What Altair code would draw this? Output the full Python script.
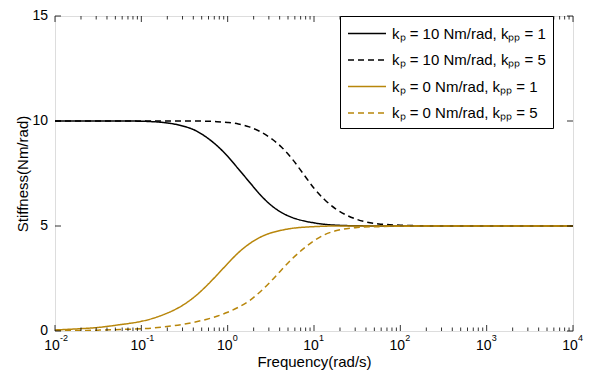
import altair as alt
import pandas as pd

FONT = "Liberation Sans"

# frequency grid (rad/s)
freq = [0.01, 0.0178, 0.0316, 0.0562, 0.1, 0.133, 0.178, 0.237, 0.316, 0.422,
        0.562, 0.75, 1.0, 1.33, 1.78, 2.37, 3.16, 4.22, 5.62, 7.5,
        10, 13.3, 17.8, 23.7, 31.6, 56.2, 100, 316, 1000, 10000]

black_solid = [10, 10, 10, 10, 9.99, 9.97, 9.93, 9.86, 9.74, 9.55,
               9.24, 8.83, 8.32, 7.72, 7.1, 6.5, 6.0, 5.64, 5.4, 5.25,
               5.15, 5.08, 5.04, 5.02, 5.01, 5.0, 5.0, 5.0, 5.0, 5.0]
black_dashed = [10, 10, 10, 10, 10, 10, 10, 10, 10, 10,
                9.99, 9.97, 9.93, 9.86, 9.72, 9.5, 9.18, 8.75, 8.18, 7.49,
                6.8, 6.25, 5.82, 5.52, 5.31, 5.1, 5.04, 5.0, 5.0, 5.0]
gold_solid = [0.05, 0.1, 0.17, 0.3, 0.46, 0.59, 0.77, 0.99, 1.28, 1.66,
              2.13, 2.66, 3.21, 3.73, 4.15, 4.46, 4.67, 4.8, 4.89, 4.94,
              4.97, 4.99, 5.0, 5.0, 5.0, 5.0, 5.0, 5.0, 5.0, 5.0]
gold_dashed = [0.01, 0.02, 0.04, 0.07, 0.11, 0.14, 0.19, 0.25, 0.33, 0.43,
               0.55, 0.7, 0.89, 1.13, 1.44, 1.86, 2.36, 2.92, 3.45, 3.91,
               4.3, 4.59, 4.77, 4.87, 4.93, 4.97, 4.99, 5.0, 5.0, 5.0]

series_labels = ["kₚ = 10 Nm/rad, kₚₚ = 1", "kₚ = 10 Nm/rad, kₚₚ = 5",
                 "kₚ = 0 Nm/rad, kₚₚ = 1", "kₚ = 0 Nm/rad, kₚₚ = 5"]
series_colors = ["#000000", "#000000", "#B8860B", "#B8860B"]
series_dash = [[1, 0], [6, 4], [1, 0], [6, 4]]

y_ticks = [0, 5, 10, 15]
x_decades = [0.01, 0.1, 1, 10, 100, 1000, 10000]
x_exponents = ["-2", "-1", "0", "1", "2", "3", "4"]

rows = []
for lab, vals in zip(series_labels, [black_solid, black_dashed, gold_solid, gold_dashed]):
    for f, v in zip(freq, vals):
        rows.append({"freq": f, "stiffness": v, "series": lab})
df = pd.DataFrame(rows)

minor = [d * m for d in x_decades[:-1] for m in range(2, 10)]
xmaj_df = pd.DataFrame({"freq": x_decades, "base": ["10"] * len(x_decades), "exp": x_exponents})
xmin_df = pd.DataFrame({"freq": minor})
y_df = pd.DataFrame({"stiffness": y_ticks, "lab": [str(v) for v in y_ticks]})

W, H = 518, 315
xscale = alt.Scale(type="log", domain=[0.01, 10000], nice=False)
yscale = alt.Scale(domain=[0, 15], nice=False)

xaxis = alt.Axis(title="Frequency(rad/s)", labels=False, ticks=False, domain=False,
                 grid=False, titlePadding=23, titleFont=FONT, titleFontSize=15,
                 titleFontWeight="normal", titleColor="black")
yaxis = alt.Axis(title="Stiffness(Nm/rad)", labels=False, ticks=False, domain=False,
                 grid=False, titlePadding=25, titleFont=FONT, titleFontSize=15,
                 titleFontWeight="normal", titleColor="black")
X = alt.X("freq:Q", scale=xscale, axis=xaxis, title="Frequency(rad/s)")
Y = alt.Y("stiffness:Q", scale=yscale, axis=yaxis, title="Stiffness(Nm/rad)")

legend = alt.Legend(title=None, orient="none", legendX=285, legendY=0,
                    strokeColor="black", fillColor="white", padding=7,
                    symbolType="M-1,0H3", symbolSize=361, symbolStrokeWidth=1.5,
                    labelFont=FONT, labelFontSize=15, labelColor="black",
                    labelOffset=24, rowPadding=7.5, labelLimit=400, cornerRadius=0)

lines = alt.Chart(df).mark_line(strokeWidth=1.5, interpolate="monotone", clip=True).encode(
    x=X, y=Y,
    color=alt.Color("series:N", scale=alt.Scale(domain=series_labels, range=series_colors), legend=legend),
    strokeDash=alt.StrokeDash("series:N", scale=alt.Scale(domain=series_labels, range=series_dash), legend=legend),
    order=alt.Order("freq:Q"),
)

rule = dict(color="black", strokeWidth=0.8)
maj_bot = alt.Chart(xmaj_df).mark_rule(**rule).encode(x=X, y=alt.value(H), y2=alt.value(H - 6))
maj_top = alt.Chart(xmaj_df).mark_rule(**rule).encode(x=X, y=alt.value(0), y2=alt.value(6))
min_bot = alt.Chart(xmin_df).mark_rule(**rule).encode(x=X, y=alt.value(H), y2=alt.value(H - 3.5))
min_top = alt.Chart(xmin_df).mark_rule(**rule).encode(x=X, y=alt.value(0), y2=alt.value(3.5))

y_left = alt.Chart(y_df).mark_rule(**rule).encode(y=Y, x=alt.value(0), x2=alt.value(6))
y_right = alt.Chart(y_df).mark_rule(**rule).encode(y=Y, x=alt.value(W), x2=alt.value(W - 6))

x_base = alt.Chart(xmaj_df).mark_text(font=FONT, fontSize=14, align="center", baseline="alphabetic",
                                      dx=-3, color="black").encode(x=X, y=alt.value(H + 19), text="base:N")
x_exp = alt.Chart(xmaj_df).mark_text(font=FONT, fontSize=9, align="left", baseline="alphabetic",
                                     dx=5, color="black").encode(x=X, y=alt.value(H + 10), text="exp:N")
y_lab = alt.Chart(y_df).mark_text(font=FONT, fontSize=14, align="right", baseline="middle",
                                  color="black").encode(y=Y, x=alt.value(-7), text="lab:N")

chart = alt.layer(lines, maj_bot, maj_top, min_bot, min_top, y_left, y_right, x_base, x_exp, y_lab).properties(
    width=W, height=H,
    autosize=alt.AutoSizeParams(type="none"),
    padding={"left": 47, "top": 8, "right": 11, "bottom": 40},
).configure_view(stroke="black", strokeWidth=1).configure(background="white")

chart.save("out.html", embed_options={"renderer": "svg", "actions": False})
